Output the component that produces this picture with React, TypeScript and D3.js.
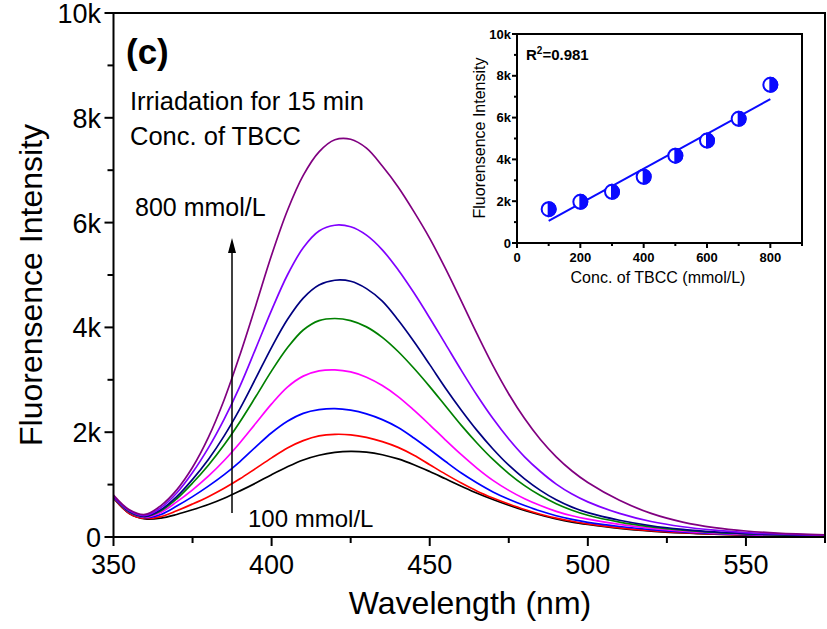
import React from "react";
import * as d3 from "d3";

// Wavelength grid (nm)
const wavelengths = [350, 355, 360, 365, 370, 375, 380, 385, 390, 395, 400, 405, 410, 415, 420, 425, 430, 435, 440, 445, 450, 455, 460, 465, 470, 475, 480, 485, 490, 495, 500, 510, 520, 530, 540, 550, 560, 575];

// Fluorescence intensity for each TBCC concentration
const s100 = [740, 450, 345, 360, 430, 520, 620, 740, 880, 1030, 1190, 1340, 1470, 1560, 1615, 1635, 1620, 1570, 1490, 1380, 1250, 1110, 970, 835, 715, 605, 505, 420, 345, 285, 240, 165, 112, 76, 52, 36, 25, 15];
const s200 = [750, 450, 355, 390, 500, 630, 770, 930, 1110, 1310, 1510, 1700, 1840, 1930, 1960, 1950, 1900, 1820, 1710, 1560, 1380, 1200, 1030, 875, 745, 630, 525, 435, 360, 300, 250, 175, 120, 82, 56, 39, 28, 18];
const s300 = [760, 470, 370, 430, 590, 770, 970, 1190, 1440, 1720, 1990, 2210, 2360, 2430, 2450, 2420, 2350, 2240, 2090, 1890, 1670, 1440, 1220, 1030, 860, 720, 600, 495, 405, 335, 280, 200, 140, 95, 65, 45, 32, 20];
const s400 = [760, 480, 380, 470, 670, 900, 1160, 1460, 1800, 2170, 2540, 2860, 3070, 3170, 3190, 3150, 3050, 2890, 2680, 2420, 2140, 1850, 1570, 1310, 1080, 890, 730, 600, 490, 405, 340, 240, 165, 110, 75, 52, 36, 22];
const s500 = [770, 480, 390, 500, 730, 1030, 1370, 1760, 2200, 2680, 3170, 3610, 3950, 4130, 4170, 4130, 4010, 3810, 3540, 3220, 2870, 2500, 2130, 1790, 1480, 1210, 980, 790, 635, 510, 415, 285, 195, 130, 88, 60, 42, 26];
const s600 = [770, 490, 395, 520, 770, 1100, 1480, 1930, 2450, 3030, 3620, 4150, 4560, 4810, 4900, 4880, 4740, 4500, 4140, 3730, 3290, 2840, 2420, 2030, 1680, 1370, 1110, 890, 710, 570, 465, 320, 215, 145, 97, 65, 45, 28];
const s700 = [780, 500, 410, 560, 840, 1230, 1700, 2250, 2880, 3600, 4330, 5000, 5520, 5840, 5950, 5920, 5760, 5480, 5100, 4660, 4180, 3680, 3180, 2700, 2260, 1870, 1530, 1250, 1010, 820, 670, 450, 295, 195, 130, 85, 58, 32];
const s800 = [800, 520, 430, 600, 900, 1330, 1900, 2620, 3480, 4420, 5380, 6230, 6900, 7350, 7580, 7590, 7420, 7080, 6680, 6210, 5700, 5120, 4500, 3870, 3270, 2730, 2260, 1860, 1530, 1260, 1040, 700, 450, 285, 180, 115, 75, 40];

const seriesColors = ["#000000", "#ff0000", "#0000ff", "#ff00ff", "#008000", "#000080", "#8000ff", "#800080"];
const allSeries = [s100, s200, s300, s400, s500, s600, s700, s800];

// Inset data
const insetConc = [100, 200, 300, 400, 500, 600, 700, 800];
const insetIntensity = [1620, 1970, 2450, 3170, 4180, 4900, 5940, 7570];

const xMajorTicks = [350, 400, 450, 500, 550];
const xMinorTicks = [375, 425, 475, 525, 575];
const yMajorTicks = [0, 2000, 4000, 6000, 8000, 10000];
const yMinorTicks = [1000, 3000, 5000, 7000, 9000];
const insetXTicks = [0, 200, 400, 600, 800];
const insetXMinor = [100, 300, 500, 700, 900];
const insetYTicks = [0, 2000, 4000, 6000, 8000, 10000];
const insetYMinor = [1000, 3000, 5000, 7000, 9000];

const kFmt = (d: number) => (d === 0 ? "0" : `${d / 1000}k`);
const FONT = "'Liberation Sans', Arial, sans-serif";

export default function App() {
  const left = 113.5, right = 825, top = 13, bottom = 537;
  const x = d3.scaleLinear().domain([350, 575]).range([left, right]);
  const y = d3.scaleLinear().domain([0, 10000]).range([bottom, top]);
  const line = d3
    .line<number>()
    .x((_, i) => x(wavelengths[i]))
    .y((d) => y(d))
    .curve(d3.curveCatmullRom.alpha(0.5));

  // inset
  const iL = 517, iR = 802, iT = 34, iB = 243;
  const ix = d3.scaleLinear().domain([0, 900]).range([iL, iR]);
  const iy = d3.scaleLinear().domain([0, 10000]).range([iB, iT]);
  const mx = d3.mean(insetConc)!;
  const my = d3.mean(insetIntensity)!;
  const sxy = d3.sum(insetConc, (c, i) => (c - mx) * (insetIntensity[i] - my));
  const sxx = d3.sum(insetConc, (c) => (c - mx) ** 2);
  const slope = sxy / sxx;
  const icpt = my - slope * mx;
  const fitX = [insetConc[0], insetConc[insetConc.length - 1]];
  const blue = "#0a0aff";
  const r = 7;

  const arrowX = 232;

  return (
    <svg width={827} height={629} style={{ position: "absolute", left: 0, top: 0, background: "#fff" }} fontFamily={FONT}>
      <rect x={0} y={0} width={827} height={629} fill="#fff" />
      {/* curves */}
      {allSeries.map((s, i) => (
        <path key={i} d={line(s) || ""} fill="none" stroke={seriesColors[i]} strokeWidth={1.7} />
      ))}
      {/* frame */}
      <rect x={left} y={top} width={right - left} height={bottom - top} fill="none" stroke="#000" strokeWidth={2} />
      {/* x ticks */}
      {xMajorTicks.map((t) => (
        <g key={t}>
          <line x1={x(t)} x2={x(t)} y1={bottom} y2={bottom + 9} stroke="#000" strokeWidth={2} />
          <text x={x(t)} y={574} textAnchor="middle" fontSize={27}>{t}</text>
        </g>
      ))}
      {xMinorTicks.map((t) => (
        <line key={t} x1={x(t)} x2={x(t)} y1={bottom} y2={bottom + 6} stroke="#000" strokeWidth={2} />
      ))}
      {/* y ticks */}
      {yMajorTicks.map((t) => (
        <g key={t}>
          <line x1={left - 9} x2={left} y1={y(t)} y2={y(t)} stroke="#000" strokeWidth={2} />
          <text x={101} y={y(t) + 10} textAnchor="end" fontSize={27}>{kFmt(t)}</text>
        </g>
      ))}
      {yMinorTicks.map((t) => (
        <line key={t} x1={left - 6} x2={left} y1={y(t)} y2={y(t)} stroke="#000" strokeWidth={2} />
      ))}
      {/* axis titles */}
      <text x={470} y={614} textAnchor="middle" fontSize={32}>Wavelength (nm)</text>
      <text transform="translate(42,285) rotate(-90)" textAnchor="middle" fontSize={32}>Fluorensence Intensity</text>

      {/* annotations */}
      <text x={126} y={64} fontSize={35} fontWeight="bold">(c)</text>
      <text x={130} y={110} fontSize={25.5}>Irriadation for 15 min</text>
      <text x={130} y={145} fontSize={25.5}>Conc. of TBCC</text>
      <text x={135} y={216} fontSize={25}>800 mmol/L</text>
      <text x={248} y={527} fontSize={24}>100 mmol/L</text>
      <line x1={arrowX} x2={arrowX} y1={513} y2={250} stroke="#000" strokeWidth={1.5} />
      <path d={`M${arrowX},238 L${arrowX - 4},253 L${arrowX + 4},253 Z`} fill="#000" />

      {/* inset */}
      <rect x={iL} y={iT} width={iR - iL} height={iB - iT} fill="#fff" stroke="#000" strokeWidth={2} />
      {insetXTicks.map((t) => (
        <g key={t}>
          <line x1={ix(t)} x2={ix(t)} y1={iB} y2={iB + 5} stroke="#000" strokeWidth={2} />
          <text x={ix(t)} y={iB + 19} textAnchor="middle" fontSize={13} fontWeight="bold">{t}</text>
        </g>
      ))}
      {insetXMinor.map((t) => (
        <line key={t} x1={ix(t)} x2={ix(t)} y1={iB} y2={iB + 3} stroke="#000" strokeWidth={2} />
      ))}
      {insetYTicks.map((t) => (
        <g key={t}>
          <line x1={iL - 5} x2={iL} y1={iy(t)} y2={iy(t)} stroke="#000" strokeWidth={2} />
          <text x={iL - 6} y={iy(t) + 4.5} textAnchor="end" fontSize={13} fontWeight="bold">{kFmt(t)}</text>
        </g>
      ))}
      {insetYMinor.map((t) => (
        <line key={t} x1={iL - 3} x2={iL} y1={iy(t)} y2={iy(t)} stroke="#000" strokeWidth={2} />
      ))}
      <text x={658} y={283} textAnchor="middle" fontSize={16}>Conc. of TBCC (mmol/L)</text>
      <text transform="translate(485,138) rotate(-90)" textAnchor="middle" fontSize={16}>Fluorensence Intensity</text>
      <text x={526} y={60} fontSize={15} fontWeight="bold">
        R<tspan dy={-6} fontSize={10}>2</tspan><tspan dy={6}>=0.981</tspan>
      </text>
      <line x1={ix(fitX[0])} x2={ix(fitX[1])} y1={iy(icpt + slope * fitX[0])} y2={iy(icpt + slope * fitX[1])} stroke={blue} strokeWidth={2} />
      {insetConc.map((c, i) => {
        const cx = ix(c), cy = iy(insetIntensity[i]);
        return (
          <g key={c}>
            <circle cx={cx} cy={cy} r={r} fill="#fff" stroke={blue} strokeWidth={2} />
            <path d={`M${cx},${cy - r} A${r},${r} 0 0 1 ${cx},${cy + r} Z`} fill={blue} stroke={blue} strokeWidth={2} />
          </g>
        );
      })}
    </svg>
  );
}
